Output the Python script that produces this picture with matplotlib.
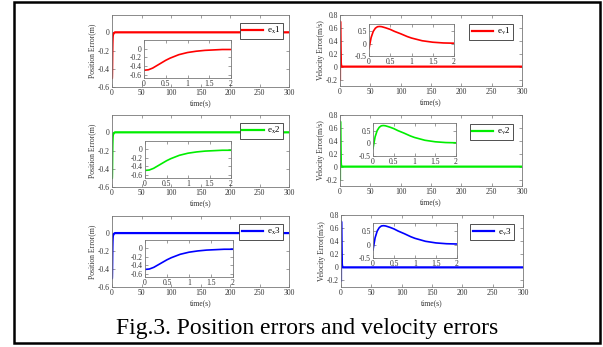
import numpy as np
import matplotlib
matplotlib.use("Agg")
import matplotlib.pyplot as plt
from matplotlib.patches import Rectangle

# Data (same transient in all three channels)
t_pos = [0, 0.1, 0.2, 0.3, 0.4, 0.5, 0.6, 0.7, 0.8, 1.0, 1.2, 1.4, 1.6, 1.8, 2.0, 3.0, 5.0, 300]
pos_err = [-0.50, -0.49, -0.45, -0.39, -0.33, -0.27, -0.22, -0.18, -0.14, -0.09, -0.06,
           -0.04, -0.03, -0.02, -0.02, -0.01, 0.0, 0.0]

t_vel = [0, 0.05, 0.1, 0.15, 0.2, 0.25, 0.3, 0.4, 0.5, 0.6, 0.75, 0.9, 1.0, 1.25, 1.5,
         1.75, 2.0, 3.0, 300]
vel_err = [-0.20, 0.25, 0.50, 0.63, 0.69, 0.70, 0.69, 0.64, 0.58, 0.50, 0.40, 0.29, 0.23,
           0.12, 0.06, 0.03, 0.02, 0.0, 0.0]

colors = ["#ff0000", "#00ee00", "#0000ff"]
pos_labels = [r"e$_{\rm x}$1", r"e$_{\rm x}$2", r"e$_{\rm x}$3"]
vel_labels = [r"e$_{\rm v}$1", r"e$_{\rm v}$2", r"e$_{\rm v}$3"]
caption = "Fig.3. Position errors and velocity errors"

W, H = 603, 347
plt.rcParams["font.family"] = ["Liberation Serif", "DejaVu Serif"]
plt.rcParams["mathtext.fontset"] = "stix"

fig = plt.figure(figsize=(W / 100, H / 100), dpi=100)


def px_axes(x0, y0, x1, y1):
    return fig.add_axes([x0 / W, 1 - y1 / H, (x1 - x0) / W, (y1 - y0) / H])


def style(ax, fs=5.5):
    for s in ax.spines.values():
        s.set_color("#777777")
        s.set_linewidth(0.6)
    ax.tick_params(direction="in", length=2, width=0.5, colors="#777777",
                   labelcolor="#333333", labelsize=fs, top=True, right=True, pad=1.5)


def add_legend(ax, anchor):
    leg = ax.legend(loc="upper right", bbox_to_anchor=anchor, borderaxespad=0,
                    fontsize=6.5, handlelength=2.4, frameon=True, fancybox=False,
                    edgecolor="#333333", framealpha=1, borderpad=0.25, handletextpad=0.4)
    leg.get_frame().set_linewidth(0.6)


# main axes boxes (pixels): left col, right col, per row
pos_boxes = [(112, 15, 289, 87), (112, 115, 289, 187), (112, 216, 289, 287)]
vel_boxes = [(340, 15, 522, 86), (340, 115, 522, 186), (341, 215, 523, 287)]
pos_insets = [(144, 40, 231, 78), (145, 141, 231, 178), (145, 240, 233, 277)]
vel_insets = [(369, 24, 454, 56), (373, 123, 456, 156), (373, 223, 457, 258)]

for i in range(3):
    c = colors[i]

    ax = px_axes(*pos_boxes[i])
    ax.plot(t_pos, pos_err, color=c, lw=1.6, label=pos_labels[i])
    ax.set_xlim(0, 300)
    ax.set_ylim(-0.6, 0.19)
    ax.set_xticks(range(0, 301, 50))
    ax.set_yticks([-0.6, -0.4, -0.2, 0])
    ax.set_yticklabels(["-0.6", "-0.4", "-0.2", "0"])
    ax.set_xlabel("time(s)", fontsize=5.5, labelpad=1.5, color="#333333")
    ax.set_ylabel("Position Error(m)", fontsize=5.5, labelpad=1, color="#333333")
    style(ax)
    add_legend(ax, (0.966, 0.89))

    axi = px_axes(*pos_insets[i])
    axi.plot(t_pos, pos_err, color=c, lw=1.2)
    axi.set_xlim(0, 2)
    axi.set_ylim(-0.68, 0.2)
    axi.set_xticks([0, 0.5, 1, 1.5, 2])
    axi.set_xticklabels(["0", "0.5", "1", "1.5", "2"])
    axi.set_yticks([-0.6, -0.4, -0.2, 0])
    axi.set_yticklabels(["-0.6", "-0.4", "-0.2", "0"])
    style(axi)

    ax = px_axes(*vel_boxes[i])
    ax.plot(t_vel, vel_err, color=c, lw=1.6, label=vel_labels[i])
    ax.set_xlim(0, 300)
    ax.set_ylim(-0.3, 0.8)
    ax.set_xticks(range(0, 301, 50))
    ax.set_yticks([-0.2, 0, 0.2, 0.4, 0.6, 0.8])
    ax.set_yticklabels(["-0.2", "0", "0.2", "0.4", "0.6", "0.8"])
    ax.set_xlabel("time(s)", fontsize=5.5, labelpad=1.5, color="#333333")
    ax.set_ylabel("Velocity Error(m/s)", fontsize=5.5, labelpad=1, color="#333333")
    style(ax)
    add_legend(ax, (0.95, 0.873))

    axi = px_axes(*vel_insets[i])
    axi.plot(t_vel, vel_err, color=c, lw=1.2)
    axi.set_xlim(0, 2)
    axi.set_ylim(-0.5, 0.8)
    axi.set_xticks([0, 0.5, 1, 1.5, 2])
    axi.set_xticklabels(["0", "0.5", "1", "1.5", "2"])
    axi.set_yticks([-0.5, 0, 0.5])
    axi.set_yticklabels(["-0.5", "0", "0.5"])
    style(axi)

fig.text(307 / W, 1 - 334 / H, caption, ha="center", va="baseline", fontsize=17, color="black")

# outer frame
fig.add_artist(Rectangle((13.5 / W, 1 - 343 / H), (600 - 13.5) / W, (343 - 1.5) / H,
                         transform=fig.transFigure, fill=False, edgecolor="black", lw=1.8))

fig.savefig("out.png", dpi=100)
